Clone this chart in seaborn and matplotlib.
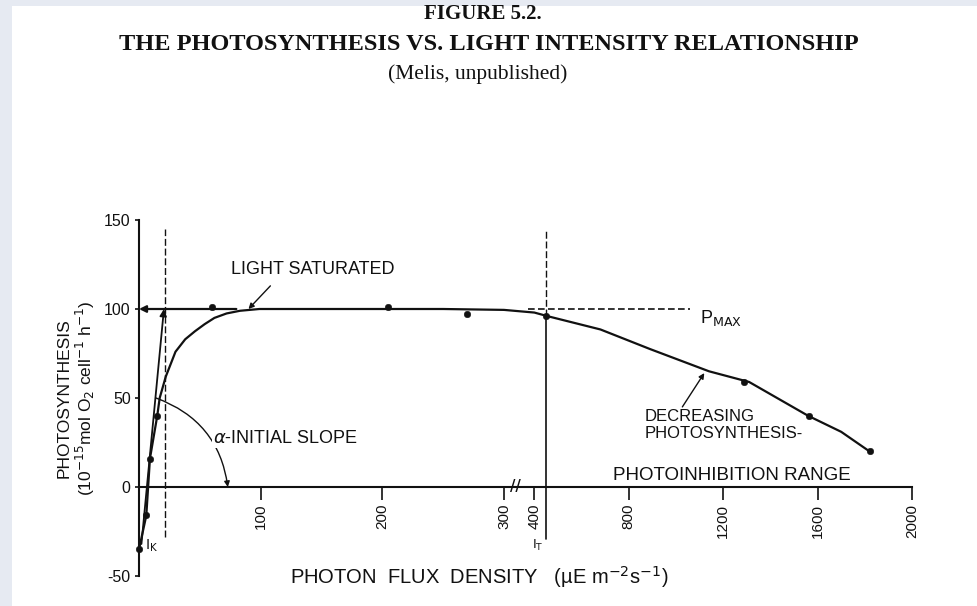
# Photosynthesis vs light intensity (Melis) - redraw of figure 5.2
import numpy as np
import matplotlib
matplotlib.use("Agg")
import matplotlib.pyplot as plt
import seaborn as sns
from matplotlib.patches import Rectangle

# light response curve as drawn
curve_flux = [0, 6, 9, 15, 17, 22, 30, 38, 46, 54, 62, 72, 83, 99, 150, 250, 300, 400, 455, 680, 890, 1140, 1310, 1560, 1700, 1820]
curve_rate = [-35, -16, 16, 40, 50, 62, 76, 83, 87.5, 91.5, 95, 97.5, 99, 100, 100, 100, 99.5, 98, 96, 88.5, 77.5, 65, 59, 40, 31, 20]

# measured points
point_flux = [0, 6, 9, 15, 60, 205, 270, 450, 1290, 1565, 1820]
point_rate = [-35, -16, 16, 40, 101, 101, 97, 96, 59, 40, 20]

x_ticks = [100, 200, 300, 400, 800, 1200, 1600, 2000]
y_ticks = [-50, 0, 50, 100, 150]

p_max = 100
i_k = 21
i_t = 450
slope_flux = [2, 20.5]
slope_rate = [-32, 100]

# broken x axis: 0-300 linear, gap, then 400-2000 compressed
break_x = [-1e4, 300, 400, 1e5]
break_t = [-1e4, 300, 325, 325 + (1e5 - 400) * 0.194]


def fwd(x):
    return np.interp(x, break_x, break_t)


def inv(t):
    return np.interp(t, break_t, break_x)


sns.set_theme(style="white")
plt.rcParams["font.family"] = ["Liberation Sans", "DejaVu Sans"]
plt.rcParams["mathtext.fontset"] = "dejavusans"
ink = "#111111"

fig = plt.figure(figsize=(9.78, 6.06), dpi=100, facecolor="#e6eaf2")
fig.patches.append(Rectangle((12 / 978, 0), 1, 1 - 6 / 606, transform=fig.transFigure,
                             facecolor="white", edgecolor="none", zorder=-10))
ax = fig.add_axes([139 / 978, 30 / 606, 773 / 978, 356 / 606])
ax.set_facecolor("none")

sns.lineplot(x=curve_flux, y=curve_rate, ax=ax, color=ink, lw=1.6, sort=False, clip_on=False)
sns.scatterplot(x=point_flux, y=point_rate, ax=ax, color=ink, s=22, edgecolor=ink, zorder=5, clip_on=False)

ax.set_xscale("function", functions=(fwd, inv))
ax.set_xlim(0, 2000)
ax.set_ylim(-50, 150)

# initial slope and guide lines
ax.annotate("", xy=(slope_flux[1], slope_rate[1]), xytext=(slope_flux[0], slope_rate[0]),
            arrowprops=dict(arrowstyle="-|>", color=ink, lw=1.3, mutation_scale=10, shrinkA=0, shrinkB=0))
ax.annotate("", xy=(0, p_max), xytext=(80, p_max),
            arrowprops=dict(arrowstyle="-|>", color=ink, lw=1.6, mutation_scale=10, shrinkA=0, shrinkB=0))
ax.plot([380, 1060], [p_max, p_max], color=ink, lw=1.2, ls=(0, (4, 2)))
ax.plot([i_k, i_k], [-28, 145], color=ink, lw=1.0, ls=(0, (5, 2)), clip_on=False)
ax.plot([i_t, i_t], [96, 145], color=ink, lw=1.0, ls=(0, (5, 2)), clip_on=False)
ax.plot([i_t, i_t], [-29, 96], color=ink, lw=1.2, clip_on=False)

# labels inside the plot
ax.text(76, 122, "LIGHT SATURATED", fontsize=13, color=ink, ha="left", va="center")
ax.annotate("", xy=(90, p_max), xytext=(108, 113),
            arrowprops=dict(arrowstyle="-|>", color=ink, lw=1.0, mutation_scale=8, shrinkA=0, shrinkB=0))
ax.text(1100, 92, r"P$_{\mathrm{MAX}}$", fontsize=13, color=ink, ha="left", va="baseline")
ax.annotate("", xy=(73, 0), xytext=(14, 50),
            arrowprops=dict(arrowstyle="-|>", color=ink, lw=1.0, mutation_scale=8,
                            shrinkA=0, shrinkB=0, connectionstyle="arc3,rad=-0.3"))
ax.text(61, 27, r"$\alpha$-INITIAL SLOPE", fontsize=13, color=ink, ha="left", va="center",
        bbox=dict(facecolor="white", edgecolor="none", pad=0.5))
ax.text(867, 44, "DECREASING\nPHOTOSYNTHESIS-", fontsize=12, color=ink, ha="left", va="top",
        linespacing=1.2)
ax.annotate("", xy=(1120, 64), xytext=(1027, 45),
            arrowprops=dict(arrowstyle="-|>", color=ink, lw=1.0, mutation_scale=8, shrinkA=0, shrinkB=0))
ax.text(1238, 1.5, "PHOTOINHIBITION RANGE", fontsize=13.5, color=ink, ha="center", va="bottom")
ax.text(5, -33, r"I$_{\mathrm{K}}$", fontsize=10.5, color=ink, ha="left", va="center")
ax.text(415, -33, r"I$_{\mathrm{T}}$", fontsize=9.5, color=ink, ha="center", va="center")
ax.text(336, 0, "//", fontsize=14, color=ink, ha="center", va="center")

# axes styling
for side in ["top", "right"]:
    ax.spines[side].set_visible(False)
ax.spines["bottom"].set_position(("data", 0))
ax.spines["left"].set_bounds(-50, 150)
for side in ["bottom", "left"]:
    ax.spines[side].set_color(ink)
    ax.spines[side].set_linewidth(1.5)

ax.set_xticks(x_ticks)
ax.set_xticklabels([str(v) for v in x_ticks], rotation=90)
ax.set_yticks(y_ticks)
ax.set_yticklabels([str(v) for v in y_ticks])
ax.set_xticks([], minor=True)
ax.set_yticks([-50, 150], minor=True)
ax.tick_params(axis="x", which="major", direction="out", length=9, width=1.2, color=ink,
               labelsize=11, labelcolor=ink, pad=3, bottom=True)
ax.tick_params(axis="y", which="major", direction="out", length=3, width=1.2, color=ink,
               labelsize=11.5, labelcolor=ink, pad=3, left=True)
ax.tick_params(axis="y", which="minor", direction="in", length=7, width=1.2, color=ink, left=True)

ax.set_ylabel("PHOTOSYNTHESIS\n(10$^{-15}$mol O$_2$ cell$^{-1}$ h$^{-1}$)", fontsize=12.5,
              color=ink, linespacing=1.15)
ax.yaxis.set_label_coords(-0.054, 0.5)
ax.set_xlabel("")
fig.text(290 / 978, 1 - 577 / 606, "PHOTON  FLUX  DENSITY   (\u00b5E m$^{-2}$s$^{-1}$)",
         fontsize=14.5, color=ink, ha="left", va="center")

# title block
fig.text(0.494, 1 - 14 / 606, "FIGURE 5.2.", ha="center", va="center",
         family="Liberation Serif", weight="bold", fontsize=15, color=ink)
fig.text(0.5, 1 - 45 / 606, "THE PHOTOSYNTHESIS VS. LIGHT INTENSITY RELATIONSHIP",
         ha="center", va="center", family="Liberation Serif", weight="bold", fontsize=17.5, color=ink)
fig.text(0.488, 1 - 74 / 606, "(Melis, unpublished)", ha="center", va="center",
         family="Liberation Serif", fontsize=15.5, color=ink)

fig.savefig("out.png", dpi=100, facecolor=fig.get_facecolor())
